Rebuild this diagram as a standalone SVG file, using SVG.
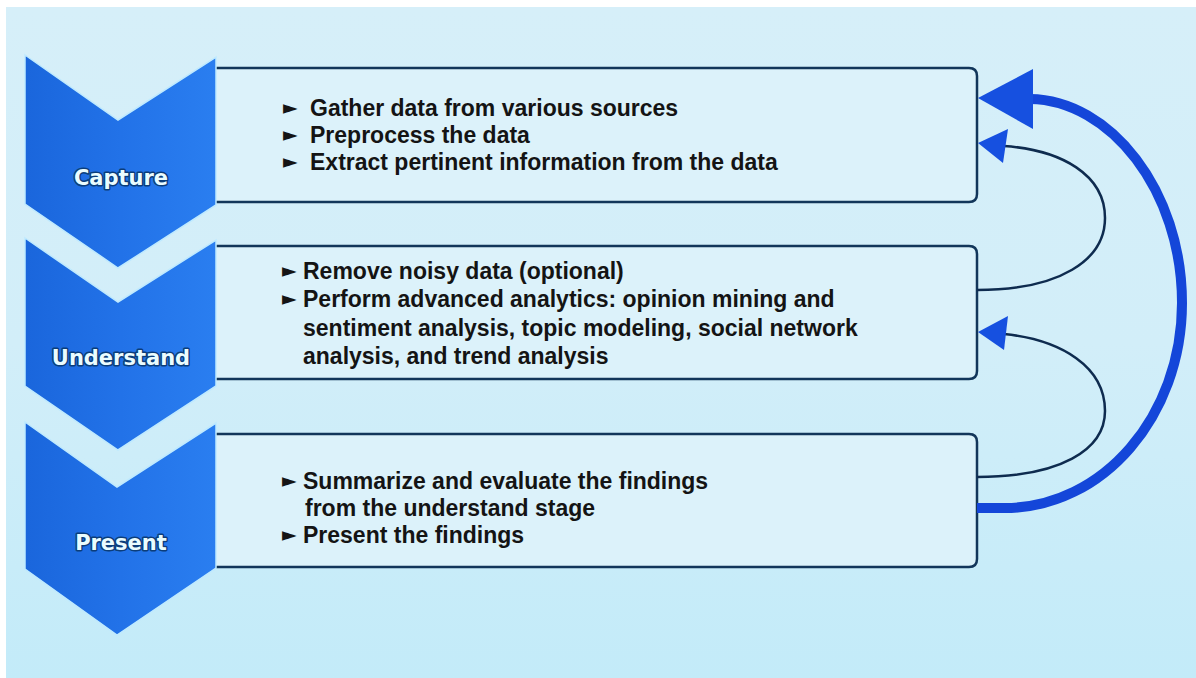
<svg xmlns="http://www.w3.org/2000/svg" width="1196" height="678" viewBox="0 0 1196 678">
<defs>
<linearGradient id="bg" x1="0" y1="0" x2="0" y2="1">
<stop offset="0" stop-color="#d6eff9"/>
<stop offset="0.5" stop-color="#d2eef9"/>
<stop offset="1" stop-color="#c3ebf9"/>
</linearGradient>
<linearGradient id="chev" x1="0" y1="0" x2="1" y2="0">
<stop offset="0" stop-color="#1a66dc"/>
<stop offset="0.5" stop-color="#2272e8"/>
<stop offset="1" stop-color="#2a7ef0"/>
</linearGradient>
<style>
.chev{fill:url(#chev);stroke:#bfeaff;stroke-width:1.5}
.box{fill:#dcf2fa;stroke:#12365a;stroke-width:2.5}
.lbl{font-family:"DejaVu Sans",sans-serif;font-weight:bold;font-size:21px;fill:#eafcff;stroke:#0b3d7a;stroke-width:3;paint-order:stroke;stroke-linejoin:round;text-anchor:middle}
.txt{font-family:"Liberation Sans",Arial,sans-serif;font-weight:bold;font-size:23px;fill:#141414}
.bul{font-family:"DejaVu Sans",sans-serif;font-size:19px;fill:#141414}
.thin{fill:none;stroke:#0e2b4f;stroke-width:2.5}
.thick{fill:none;stroke:#1446d9;stroke-width:10}
.head{fill:#1650e0}
</style>
</defs>
<rect x="0" y="0" width="1196" height="678" fill="#ffffff"/>
<rect x="6" y="7" width="1190" height="671" fill="url(#bg)"/>

<g id="capture">
<path class="box" d="M216 68 H969 Q977 68 977 76 V194 Q977 202 969 202 H216"/>
<polygon class="chev" points="25,55 118,120 216,57 216,205 118,268 25,204"/>
<text class="lbl" x="121" y="185">Capture</text>
<text class="bul" x="283" y="114">►</text>
<text class="bul" x="283" y="141">►</text>
<text class="bul" x="283" y="168">►</text>
<text class="txt" x="310" y="116">Gather data from various sources</text>
<text class="txt" x="310" y="143">Preprocess the data</text>
<text class="txt" x="310" y="170">Extract pertinent information from the data</text>
</g>

<g id="understand">
<path class="box" d="M216 246 H969 Q977 246 977 254 V371 Q977 379 969 379 H216"/>
<polygon class="chev" points="25,238 118,302 216,240 216,386 118,450 25,386"/>
<text class="lbl" x="121" y="365">Understand</text>
<text class="bul" x="282" y="277">►</text>
<text class="bul" x="282" y="305">►</text>
<text class="txt" x="303" y="279">Remove noisy data (optional)</text>
<text class="txt" x="303" y="307">Perform advanced analytics: opinion mining and</text>
<text class="txt" x="303" y="336">sentiment analysis, topic modeling, social network</text>
<text class="txt" x="303" y="364">analysis, and trend analysis</text>
</g>

<g id="present">
<path class="box" d="M216 434 H969 Q977 434 977 442 V559 Q977 567 969 567 H216"/>
<polygon class="chev" points="25,422 117,487 216,423 216,568 117,635 25,569"/>
<text class="lbl" x="121" y="550">Present</text>
<text class="bul" x="282" y="487">►</text>
<text class="bul" x="282" y="541">►</text>
<text class="txt" x="303" y="489">Summarize and evaluate the findings</text>
<text class="txt" x="305" y="516">from the understand stage</text>
<text class="txt" x="303" y="543">Present the findings</text>
</g>

<g id="connectors">
<path class="thick" d="M977 508 L1005 508 C1103 508 1182 416 1182 303 C1182 190 1110 100 1030 99"/>
<polygon class="head" points="978,98 1033,69 1033,129"/>
<path class="thin" d="M977 290 C1060 290 1105 260 1105 218 C1105 175 1062 150 1004 146"/>
<polygon class="head" points="978,143 1008,129 1003,163"/>
<path class="thin" d="M977 477 C1060 477 1105 450 1105 411 C1105 367 1062 340 1004 334"/>
<polygon class="head" points="978,332 1008,316 1004,350"/>
</g>
</svg>
